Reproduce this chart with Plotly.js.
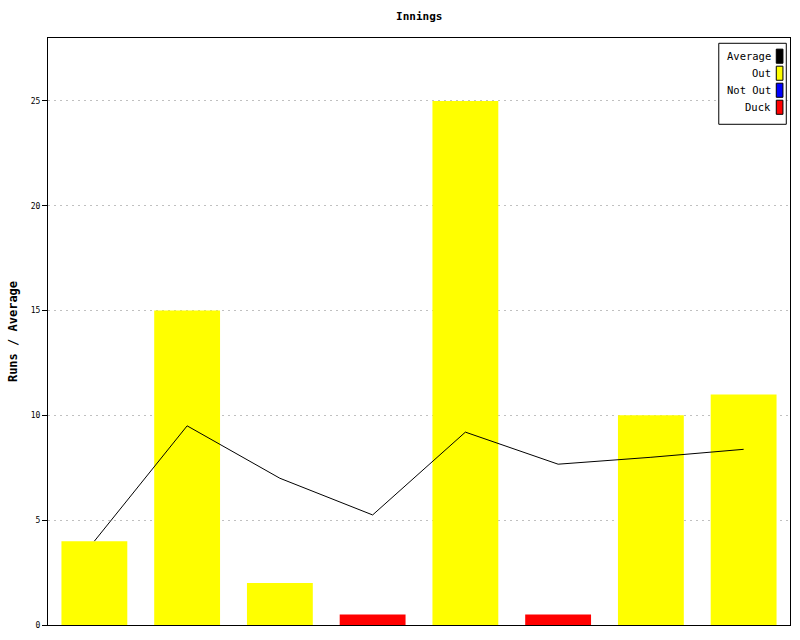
<!DOCTYPE html>
<html><head><meta charset="utf-8">
<script src="https://cdn.plot.ly/plotly-3.0.1.min.js"></script>
<style>body{margin:0;background:#fff}#chart{width:800px;height:640px}</style>
</head><body><div id="chart"></div>
<script>
const innings = [1,2,3,4,5,6,7,8];
const outRuns = [4,15,2,null,25,null,10,11];
const notOutRuns = [null,null,null,null,null,null,null,null];
const duckRuns = [null,null,null,0.5,null,0.5,null,null];
const average = [4,9.5,7,5.25,9.2,7.67,8,8.38];
const legendNames = ['Average','Out','Not Out','Duck'];
const legendColors = ['#000000','#ffff00','#0000ff','#ff0000'];

const font = 'DejaVu Sans Mono, monospace';
const traces = [
  {type:'bar', x:innings, y:outRuns, name:'Out', marker:{color:'#ffff00'}, width:0.71, hoverinfo:'y'},
  {type:'bar', x:innings, y:notOutRuns, name:'Not Out', marker:{color:'#0000ff'}, width:0.71},
  {type:'bar', x:innings, y:duckRuns, name:'Duck', marker:{color:'#ff0000'}, width:0.71},
  {type:'scatter', mode:'lines', x:innings, y:average, name:'Average', line:{color:'#000', width:1}}
];

// custom legend (paper coords)
const shapes = [], annotations = [];
const lx0 = 0.904, lx1 = 0.995, ly1 = 0.991, ly0 = 0.853;
shapes.push({type:'rect', xref:'paper', yref:'paper', x0:lx0, x1:lx1, y0:ly0, y1:ly1, line:{color:'#000',width:1}, fillcolor:'#fff'});
legendNames.forEach((n,i)=>{
  const yc = 0.969 - i*0.029;
  shapes.push({type:'rect', xref:'paper', yref:'paper', x0:0.9815, x1:0.9905, y0:yc-0.012, y1:yc+0.012, line:{color:'#000',width:1}, fillcolor:legendColors[i]});
  annotations.push({xref:'paper', yref:'paper', x:0.9765, y:yc, xanchor:'right', yanchor:'middle', text:n, showarrow:false, font:{family:font, size:10.5, color:'#000'}});
});

const layout = {
  width:800, height:640,
  margin:{l:48, r:10, t:38, b:15},
  paper_bgcolor:'#fff', plot_bgcolor:'#fff',
  barmode:'overlay', showlegend:false,
  title:{text:'<b>Innings</b>', x:0.524, xanchor:'center', y:0.975, yanchor:'middle', font:{family:font, size:11, color:'#000'}},
  xaxis:{range:[0.5,8.5], showticklabels:false, ticks:'', showgrid:false, zeroline:false,
         showline:true, linecolor:'#000', linewidth:1, mirror:true},
  yaxis:{range:[0,28], tickvals:[0,5,10,15,20,25], ticks:'outside', ticklen:5, tickcolor:'#000',
         showgrid:true, gridcolor:'#c0c0c0', griddash:'2px,4px', gridwidth:1, zeroline:false,
         showline:true, linecolor:'#000', linewidth:1, mirror:true,
         tickfont:{family:font, size:8, color:'#000'},
         title:{text:'<b>Runs / Average</b>', standoff:10, font:{family:font, size:12, color:'#000'}}},
  shapes:shapes, annotations:annotations
};
Plotly.newPlot('chart', traces, layout, {displayModeBar:false, staticPlot:true});
</script></body></html>
